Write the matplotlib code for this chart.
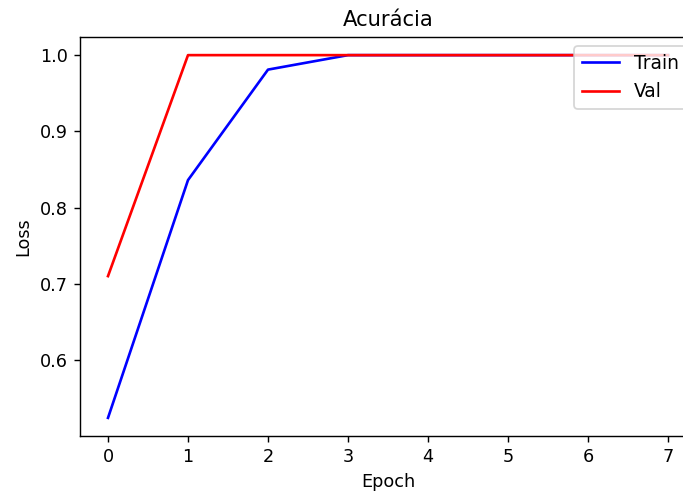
import numpy as np
import matplotlib
matplotlib.use("Agg")
import matplotlib.pyplot as plt

# dados
epochs = [0, 1, 2, 3, 4, 5, 6, 7]
train_acc = [0.524, 0.836, 0.981, 1.0, 1.0, 1.0, 1.0, 1.0]
val_acc = [0.710, 1.0, 1.0, 1.0, 1.0, 1.0, 1.0, 1.0]

dpi = 127
fig = plt.figure(figsize=(683 / dpi, 496 / dpi), dpi=dpi)
# eixo passa um pouco da borda direita, como no original
ax = fig.add_axes([80 / 683, 1 - 436 / 496, (696 - 80) / 683, (436 - 37) / 496])

ax.plot(epochs, train_acc, color='blue', label='Train')
ax.plot(epochs, val_acc, color='red', label='Val')
ax.set_title("Acurácia")
ax.set_xlabel("Epoch")
ax.set_ylabel("Loss")
ax.legend(loc='upper right', fontsize=10.6)

fig.savefig("out.png", dpi=dpi)
